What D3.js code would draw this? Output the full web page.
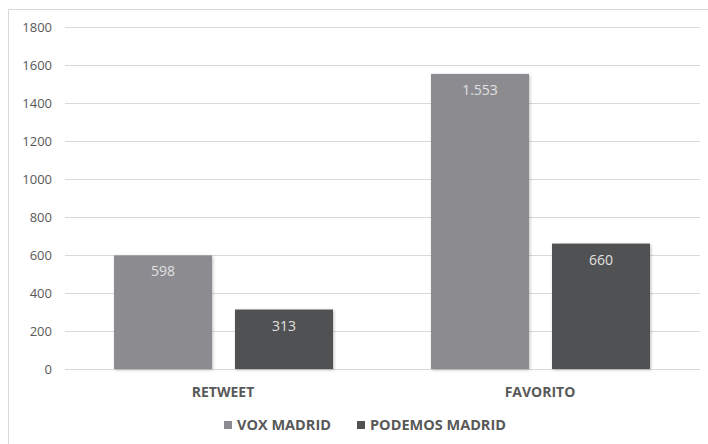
<!DOCTYPE html>
<html><head><meta charset="utf-8">
<script src="https://cdn.jsdelivr.net/npm/d3@7"></script>
<style>body{margin:0;background:#fff}svg{display:block}</style>
</head><body>
<svg id="c" width="708" height="444"></svg>
<script>
const categories = ["RETWEET", "FAVORITO"];
const seriesNames = ["VOX MADRID", "PODEMOS MADRID"];
const voxValues = [598, 1553];
const podemosValues = [313, 660];
const valueLabels = [["598", "313"], ["1.553", "660"]];
const yTicks = [0, 200, 400, 600, 800, 1000, 1200, 1400, 1600, 1800];
const colors = ["#8c8c90", "#505153"];

const svg = d3.select("#c");
const font = "'Open Sans', 'Liberation Sans', sans-serif";
// chart border
svg.append("rect").attr("x", 8.5).attr("y", 9.5).attr("width", 720).attr("height", 460)
  .attr("fill", "#fff").attr("stroke", "#d9d9d9");

const x = d3.scaleBand().domain(categories).range([64.5, 698.5]);
const y = d3.scaleLinear().domain([0, 1800]).range([369, 27]);
const x1 = d3.scaleBand().domain(seriesNames).range([49.5, 268.5]).paddingInner(0.19).paddingOuter(0);

// gridlines
svg.append("g").selectAll("line").data(yTicks).join("line")
  .attr("x1", 65).attr("x2", 700)
  .attr("y1", d => Math.round(y(d)) + 0.5).attr("y2", d => Math.round(y(d)) + 0.5)
  .attr("stroke", "#d9d9d9").attr("stroke-width", 1);

// y tick labels
svg.append("g").selectAll("text").data(yTicks).join("text")
  .attr("x", 52).attr("y", d => y(d)).attr("dy", "0.35em")
  .attr("text-anchor", "end").attr("font-family", font).attr("font-size", 13)
  .attr("fill", "#595959").text(d => d);

const data = categories.map((c, i) => ({cat: c, vals: [voxValues[i], podemosValues[i]], labels: valueLabels[i]}));

const groups = svg.append("g").selectAll("g").data(data).join("g")
  .attr("transform", d => `translate(${x(d.cat)},0)`);

groups.selectAll("rect").data(d => d.vals.map((v, j) => ({v, j, s: seriesNames[j]}))).join("rect")
  .attr("x", d => x1(d.s)).attr("width", x1.bandwidth())
  .attr("y", d => y(d.v)).attr("height", d => y(0) - y(d.v))
  .attr("fill", d => colors[d.j])
  .style("filter", "drop-shadow(1px 1px 1.5px rgba(0,0,0,0.25))");

groups.selectAll("text.v").data(d => d.vals.map((v, j) => ({v, j, s: seriesNames[j], l: d.labels[j]}))).join("text")
  .attr("class", "v")
  .attr("x", d => x1(d.s) + x1.bandwidth() / 2).attr("y", d => y(d.v) + 21)
  .attr("text-anchor", "middle").attr("font-family", font).attr("font-size", 14)
  .attr("fill", "#e0e0e0").text(d => d.l);

// category labels
svg.append("g").selectAll("text").data(categories).join("text")
  .attr("x", d => x(d) + x.bandwidth() / 2).attr("y", 397)
  .attr("text-anchor", "middle").attr("font-family", font).attr("font-size", 14)
  .attr("font-weight", "bold").attr("fill", "#595959").text(d => d);

// legend
const legendX = [224, 357];
const lg = svg.append("g").selectAll("g").data(seriesNames).join("g")
  .attr("transform", (d, i) => `translate(${legendX[i]},421)`);
lg.append("rect").attr("width", 8).attr("height", 8).attr("fill", (d, i) => colors[i]);
lg.append("text").attr("x", 13).attr("y", 4).attr("dy", "0.35em")
  .attr("font-family", font).attr("font-size", 14.5).attr("font-weight", "bold")
  .attr("fill", "#595959").text(d => d);
</script>
</body></html>
